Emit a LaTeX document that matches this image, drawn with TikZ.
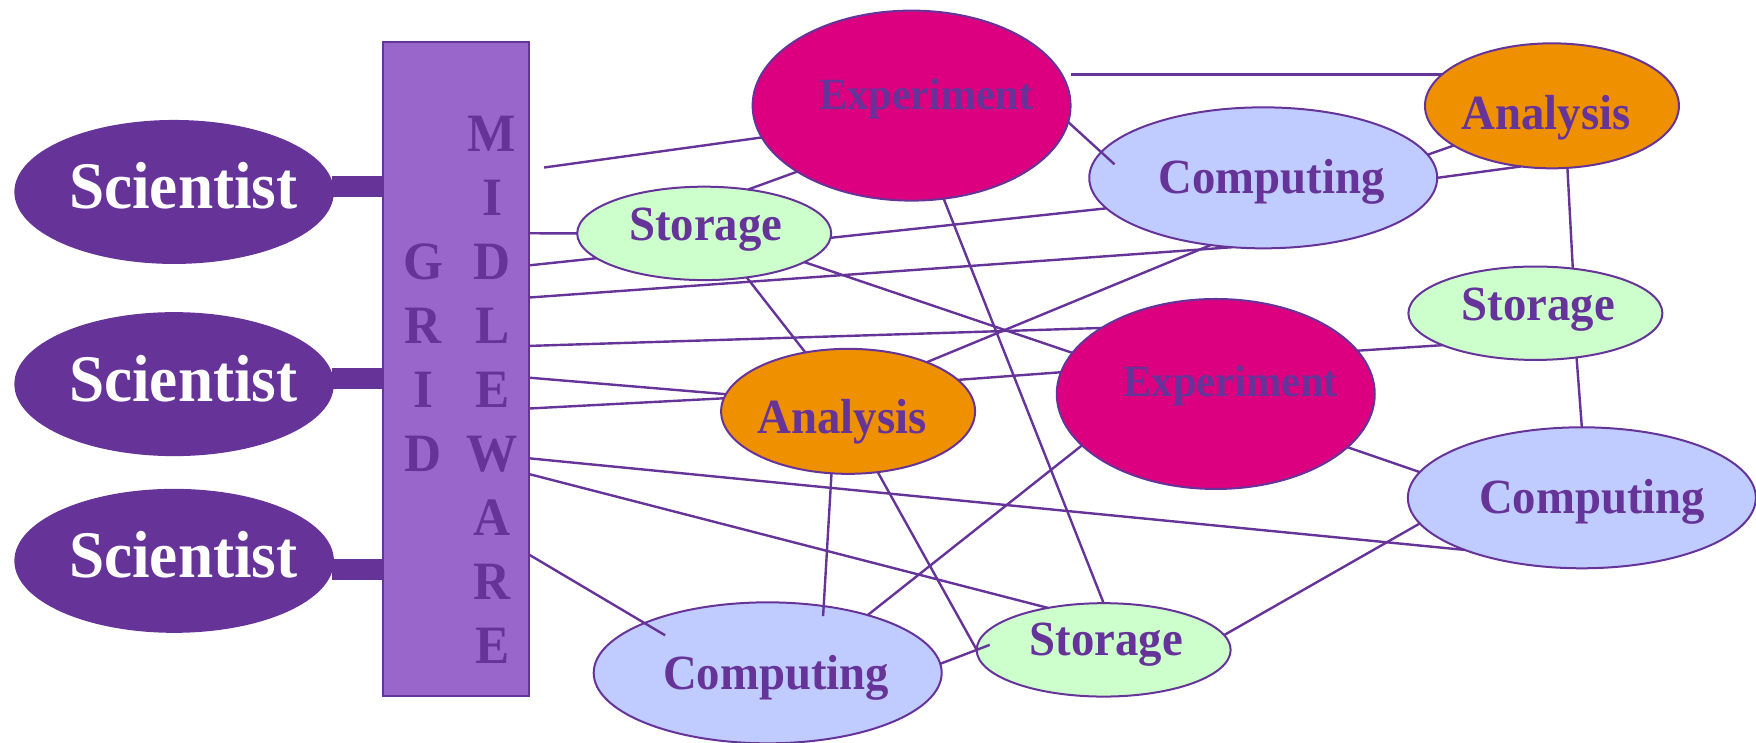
\documentclass[tikz,border=0pt]{standalone}
\usepackage{fontspec}
\setmainfont{Liberation Serif}
\newfontfamily\blobfont[FakeStretch=0.95]{Liberation Serif}
\usetikzlibrary{shapes.geometric}

\definecolor{gridpurple}{RGB}{102,51,153}
\definecolor{mwfill}{RGB}{153,102,204}
\definecolor{expfill}{RGB}{220,0,128}
\definecolor{compfill}{RGB}{192,204,255}
\definecolor{anafill}{RGB}{238,144,0}
\definecolor{stofill}{RGB}{204,255,204}

\tikzset{
  blob/.style={ellipse, draw=gridpurple, line width=1pt, inner sep=0pt, outer sep=0pt},
  scinode/.style={blob, fill=gridpurple, minimum width=158.8pt, minimum height=71pt},
  expnode/.style={blob, fill=expfill, minimum width=159pt, minimum height=95pt},
  compnode/.style={blob, fill=compfill, minimum width=174pt, minimum height=70.5pt},
  ananode/.style={blob, fill=anafill, minimum width=127pt, minimum height=62.5pt},
  stonode/.style={blob, fill=stofill, minimum width=127pt, minimum height=46.7pt},
  nodetext/.style={inner sep=0pt, text=gridpurple, font=\blobfont\bfseries\fontsize{24.6}{28}\selectfont},
  scitext/.style={nodetext, text=white, font=\blobfont\bfseries\fontsize{33.3}{38}\selectfont},
  exptext/.style={nodetext, font=\blobfont\bfseries\fontsize{22.3}{26}\selectfont},
  mwletters/.style={nodetext, align=center, font=\blobfont\bfseries\fontsize{27}{32}\selectfont},
  link/.style={draw=gridpurple, line width=1.2pt},
  scibar/.style={draw=gridpurple, line width=10.4pt}
}

\begin{document}
\begin{tikzpicture}[x=0.56pt,y=0.56pt,yscale=-1]
	\useasboundingbox (0,0) rectangle (1568,663);
	% scientists and the middleware
	\node[scinode] (sci1) at (155.5,171.4) {};
	\node[scinode] (sci2) at (155.5,343) {};
	\node[scinode] (sci3) at (155.5,500.8) {};
	\node[draw=gridpurple, fill=mwfill, line width=1pt, inner sep=0pt, minimum width=72.8pt, minimum height=327pt] (mw) at (407,329.2) {};
	\draw[scibar] (sci1.2) -- (sci1.2 -| mw.west);
	\draw[scibar] (sci2.2) -- (sci2.2 -| mw.west);
	\draw[scibar] (sci3.357) -- (sci3.357 -| mw.west);
	% resources
	\node[expnode] (exp1) at (814,94.3) {};
	\node[compnode] (comp1) at (1128,158.8) {};
	\node[ananode] (ana1) at (1385.8,94.5) {};
	\node[stonode] (sto1) at (628.8,208.4) {};
	\node[stonode] (sto2) at (1371,279.7) {};
	\node[expnode] (exp2) at (1085.6,351.8) {};
	\node[ananode] (ana2) at (757.3,367.3) {};
	\node[compnode] (comp2) at (1412.5,444.5) {};
	\node[compnode] (comp3) at (685.5,600.8) {};
	\node[stonode] (sto3) at (985.5,580.3) {};
	% middleware ports
	\foreach \y [count=\i] in {151.5,208.3,237,265.7,308.9,337.2,364.8,409.2,423.2,495}
		\coordinate (m\i) at (472,\y);
	\draw[link, shorten <=7.8pt] (m1) -- (exp1.192);
	\foreach \i/\t in {2/sto1.180, 3/sto1.193, 4/comp1.246, 5/exp2.150, 6/ana2.172, 7/ana2.174, 8/comp2.204, 9/sto3.143}
		\draw[link] (m\i) -- (\t);
	\draw[link, shorten >=-12pt] (m10) -- (comp3.158);
	% resource links
	\foreach \a/\b in {sto1.45/exp1.210, sto1.358/comp1.191, sto1.344/exp2.164, sto1.314/ana2.126,
		exp1.289/sto3.90, comp1.8/ana1.202, comp1.0/ana1.243, ana1.284/sto2.50,
		ana2.32/comp1.232, ana2.16/exp2.172, exp2.17/sto2.199, sto2.313/comp2.90,
		exp2.338/comp2.171, ana2.296/sto3.180, exp2.201/comp3.30, sto3.7/comp2.189}
		\draw[link] (\a) -- (\b);
	\draw[link] (exp1.east |- ana1.164) -- (ana1.164);
	\draw[link, shorten >=-9pt] (exp1.354) -- (comp1.171);
	\draw[link, shorten >=-5pt] (ana2.255) -- (comp3.50);
	\draw[link, shorten >=-7pt] (comp3.3) -- (sto3.180);
	% texts
	\node[scitext] (sci1-t) at (163.7,165.7) {Scientist};
	\node[scitext] (sci2-t) at (163.7,338.3) {Scientist};
	\node[scitext] (sci3-t) at (163.7,495.7) {Scientist};
	\node[mwletters] (grid) at (378,319.4) {G\\R\\I\\D};
	\node[mwletters] (midleware) at (439.5,347.8) {M\\I\\D\\L\\E\\W\\A\\R\\E};
	\node[exptext] (exp1-t) at (827,88.5) {Experiment};
	\node[exptext] (exp2-t) at (1099,344.7) {Experiment};
	\node[nodetext] (comp1-t) at (1135.6,162) {Computing};
	\node[nodetext] (comp2-t) at (1421.6,447.8) {Computing};
	\node[nodetext] (comp3-t) at (693,605.5) {Computing};
	\node[nodetext] (ana1-t) at (1380.5,105) {Analysis};
	\node[nodetext] (ana2-t) at (752,376.3) {Analysis};
	\node[nodetext] (sto1-t) at (630.2,205.5) {Storage};
	\node[nodetext] (sto2-t) at (1373.6,276.7) {Storage};
	\node[nodetext] (sto3-t) at (988,575.7) {Storage};
\end{tikzpicture}
\end{document}
